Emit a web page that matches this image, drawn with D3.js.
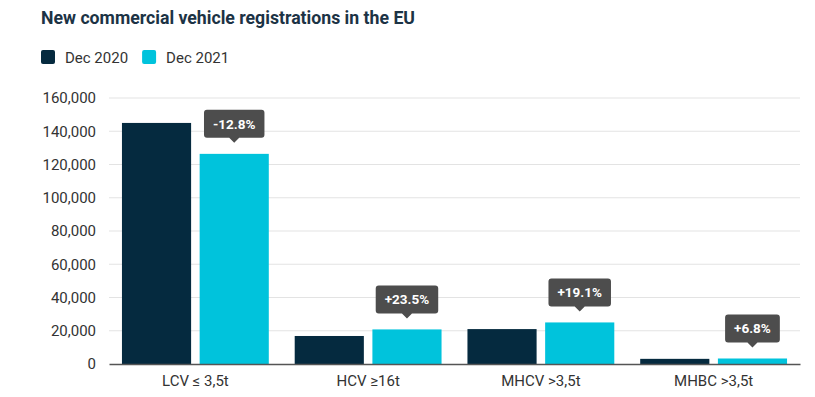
<!DOCTYPE html>
<html lang="en">
<head>
<meta charset="UTF-8">
<title>New commercial vehicle registrations in the EU</title>
<script src="https://d3js.org/d3.v7.min.js"></script>
<style>
  body { margin: 0; background: #fff; font-family: Roboto, Arial, sans-serif; }
  svg { display: block; }
</style>
</head>
<body>
<svg id="chart" width="815" height="397"></svg>
<script>
// data
const categories = ["LCV \u2264 3,5t", "HCV \u226516t", "MHCV >3,5t", "MHBC >3,5t"];
const seriesNames = ["Dec 2020", "Dec 2021"];
const dec2020 = [145000, 16850, 21000, 3100];
const dec2021 = [126400, 20800, 25000, 3310];
const changeLabels = ["-12.8%", "+23.5%", "+19.1%", "+6.8%"];
const yTicks = [0, 20000, 40000, 60000, 80000, 100000, 120000, 140000, 160000];

const colors = ["#052a3f", "#00c3dc"];
const svg = d3.select("#chart");
const margin = { top: 98, right: 15, bottom: 33, left: 109 };
const width = 815, height = 397;

// title (condensed look)
svg.append("text")
  .attr("x", 41).attr("y", 24)
  .attr("font-size", 19).attr("font-weight", 700)
  .attr("fill", "#1c3345")
  .attr("textLength", 374).attr("lengthAdjust", "spacingAndGlyphs")
  .text("New commercial vehicle registrations in the EU");

// legend
const legend = svg.append("g").attr("transform", "translate(41,50)");
let lx = 0;
seriesNames.forEach((name, i) => {
  const g = legend.append("g").attr("transform", `translate(${lx},0)`);
  g.append("rect").attr("width", 14).attr("height", 14).attr("rx", 2).attr("fill", colors[i]);
  const t = g.append("text").attr("x", 24).attr("y", 12.5)
    .attr("font-size", 15).attr("fill", "#333").text(name);
  lx += 24 + t.node().getComputedTextLength() + 14;
});

const x0 = d3.scaleBand().domain(categories)
  .range([margin.left, width - margin.right]).paddingInner(0.15).paddingOuter(0.075);
const x1 = d3.scaleBand().domain(seriesNames).range([0, x0.bandwidth()]).paddingInner(0.11);
const y = d3.scaleLinear().domain([0, 160000]).range([height - margin.bottom, margin.top]);

// grid
svg.append("g").selectAll("line").data(yTicks.slice(1)).join("line")
  .attr("x1", margin.left).attr("x2", width - margin.right)
  .attr("y1", d => y(d)).attr("y2", d => y(d))
  .attr("stroke", "#e3e3e3").attr("stroke-width", 1);

// y axis
const yAxis = svg.append("g")
  .attr("transform", `translate(${margin.left},0)`)
  .call(d3.axisLeft(y).tickValues(yTicks).tickFormat(d3.format(",")).tickSize(0).tickPadding(13));
yAxis.select(".domain").remove();
yAxis.selectAll("text").attr("font-size", 15).attr("fill", "#333").attr("font-family", "Roboto, Arial, sans-serif");

// bars
const rows = categories.map((c, i) => ({ cat: c, values: [dec2020[i], dec2021[i]], change: changeLabels[i] }));
const groups = svg.append("g").selectAll("g").data(rows).join("g")
  .attr("transform", d => `translate(${x0(d.cat)},0)`);
groups.selectAll("rect").data(d => d.values.map((v, i) => ({ key: seriesNames[i], v, i }))).join("rect")
  .attr("x", d => x1(d.key))
  .attr("width", x1.bandwidth())
  .attr("y", d => y(d.v))
  .attr("height", d => y(0) - y(d.v))
  .attr("fill", d => colors[d.i]);

// x axis
const xAxis = svg.append("g")
  .attr("transform", `translate(0,${y(0)})`)
  .call(d3.axisBottom(x0).tickSize(0).tickPadding(11));
xAxis.select(".domain").attr("stroke", "#555").attr("stroke-width", 1.5);
xAxis.selectAll("text").attr("font-size", 15).attr("fill", "#333").attr("font-family", "Roboto, Arial, sans-serif");

// change callouts above Dec 2021 bars
const callouts = groups.append("g")
  .attr("transform", d => `translate(${x1(seriesNames[1]) + x1.bandwidth() / 2},${y(d.values[1]) - 13})`);
callouts.each(function(d) {
  const g = d3.select(this);
  const t = g.append("text").attr("text-anchor", "middle").attr("y", -12)
    .attr("font-size", 13.5).attr("font-weight", 700).attr("fill", "#fff").text(d.change);
  const w = t.node().getComputedTextLength() + 18;
  g.insert("path", "text")
    .attr("d", `M${-w / 2 + 3},-31 H${w / 2 - 3} Q${w / 2},-31 ${w / 2},-28 V-6 Q${w / 2},-3 ${w / 2 - 3},-3 H5 L0,2 L-5,-3 H${-w / 2 + 3} Q${-w / 2},-3 ${-w / 2},-6 V-28 Q${-w / 2},-31 ${-w / 2 + 3},-31 Z`)
    .attr("fill", "#4d4d4d");
});
</script>
</body>
</html>
